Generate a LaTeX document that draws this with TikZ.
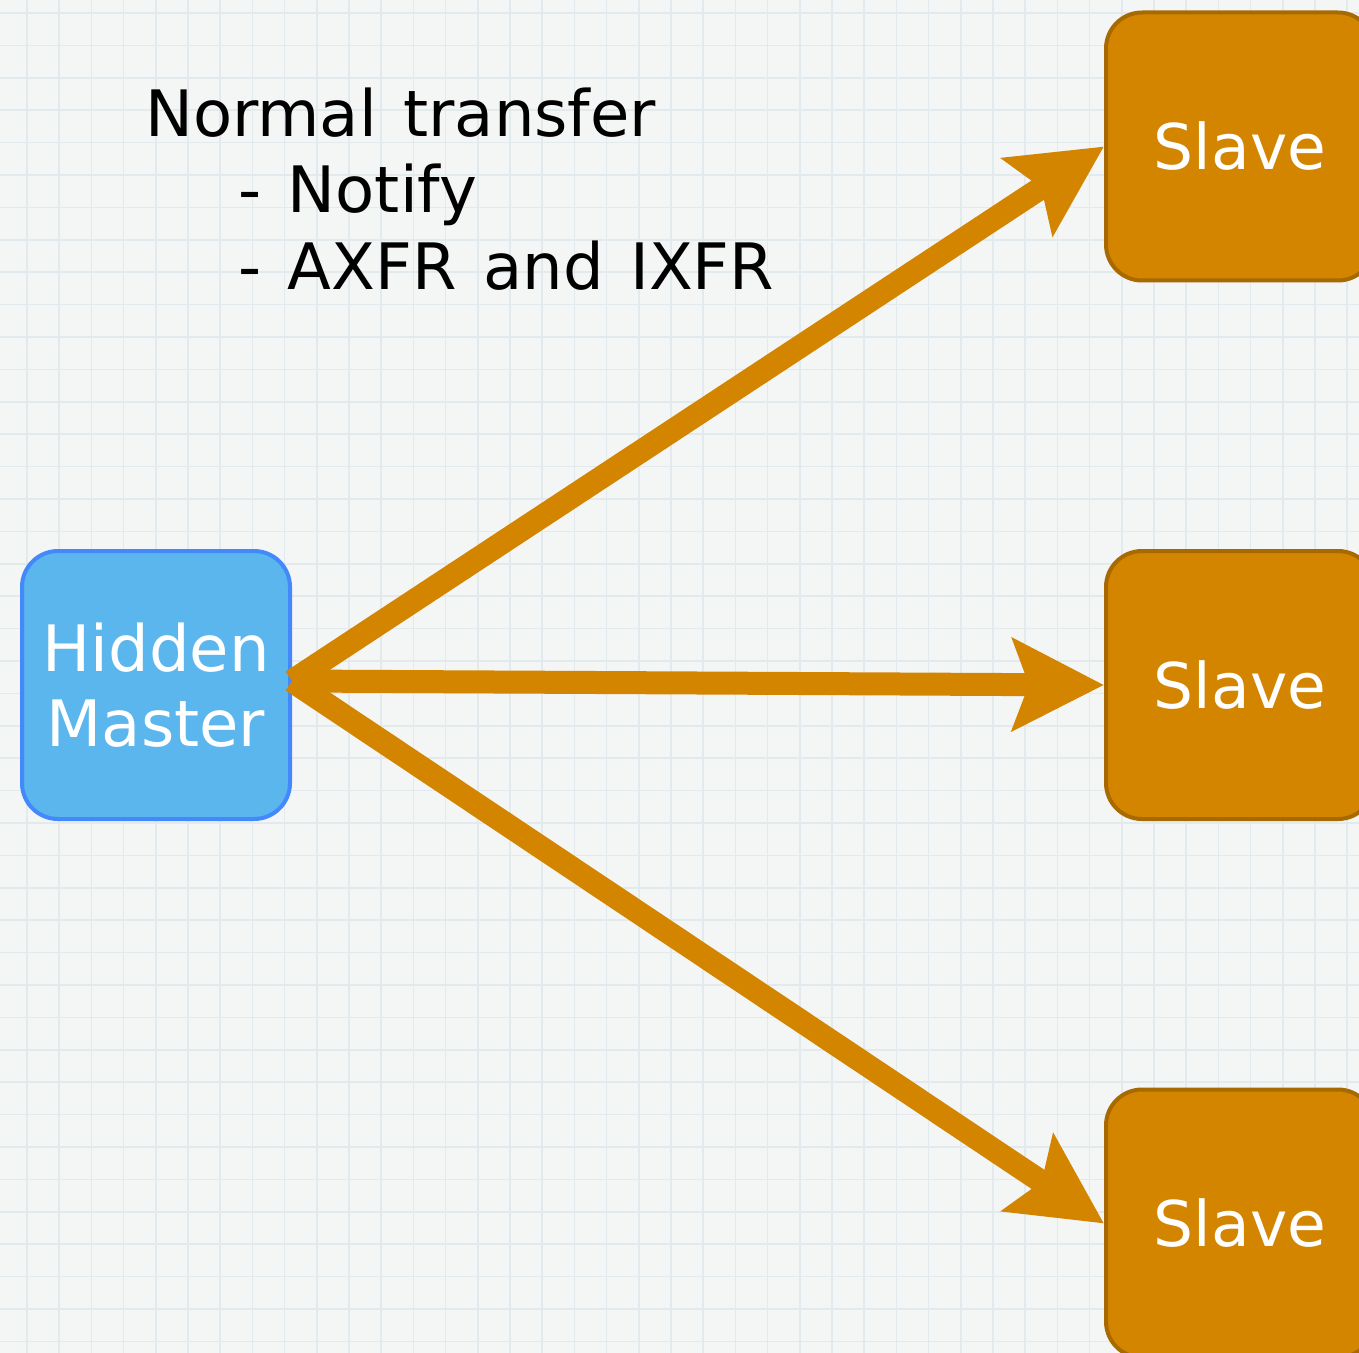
\documentclass[tikz,border=0pt]{standalone}
\usepackage{fontspec}
\setmainfont[WordSpace=1.3]{DejaVu Sans}
\usetikzlibrary{arrows.meta}
\definecolor{bgc}{HTML}{F4F5F5}
\definecolor{gridc}{HTML}{E2EAED}
\definecolor{bluefill}{HTML}{5AB6EC}
\definecolor{blueline}{HTML}{4489FB}
\definecolor{orangefill}{HTML}{D38500}
\definecolor{orangeline}{HTML}{A86A00}
\tikzset{
  masterbox/.style={draw=blueline, fill=bluefill, line width=2pt, rounded corners=18pt,
    minimum width=134pt, minimum height=134pt, inner sep=0pt, text=white, align=center,
    font=\fontsize{32}{37.5}\selectfont},
  slavebox/.style={draw=orangeline, fill=orangefill, line width=2pt, rounded corners=18pt,
    minimum width=134pt, minimum height=134pt, inner sep=0pt, text=white,
    font=\fontsize{31.5}{38}\selectfont},
  flow/.style={draw=orangefill, line width=11.5pt,
    -{Stealth[length=45.5pt, width=45.5pt, inset=8pt]}},
  note/.style={anchor=base west, inner sep=0pt, font=\fontsize{32}{38}\selectfont}
}
\begin{document}
\begin{tikzpicture}[x=0.5pt, y=-0.5pt]
\useasboundingbox (0,0) rectangle (1359,1353);
\fill[bgc] (0,0) rectangle (1359,1353);
\foreach \i in {0,...,42} {
  \draw[gridc, line width=0.8pt] ({27+32.2*\i},0) -- ({27+32.2*\i},1353);
  \draw[gridc, line width=0.8pt] (0,{13+32.4*\i}) -- (1359,{13+32.4*\i});
}
\node[masterbox] (master) at (156,685) {Hidden\\Master};
\node[slavebox] (s1) at (1240,146.5) {Slave};
\node[slavebox] (s2) at (1240,685) {Slave};
\node[slavebox] (s3) at (1240,1223.5) {Slave};
\coordinate (m) at (292,681);
\draw[flow] (m) -- (s1.west);
\draw[flow] (m) -- (s2.west);
\draw[flow] (m) -- (s3.west);
\node[note] (t1) at (145,137) {Normal transfer};
\node[note] (t2) at (238,213) {- Notify};
\node[note] (t3) at (238,290) {- AXFR and IXFR};
\end{tikzpicture}
\end{document}
